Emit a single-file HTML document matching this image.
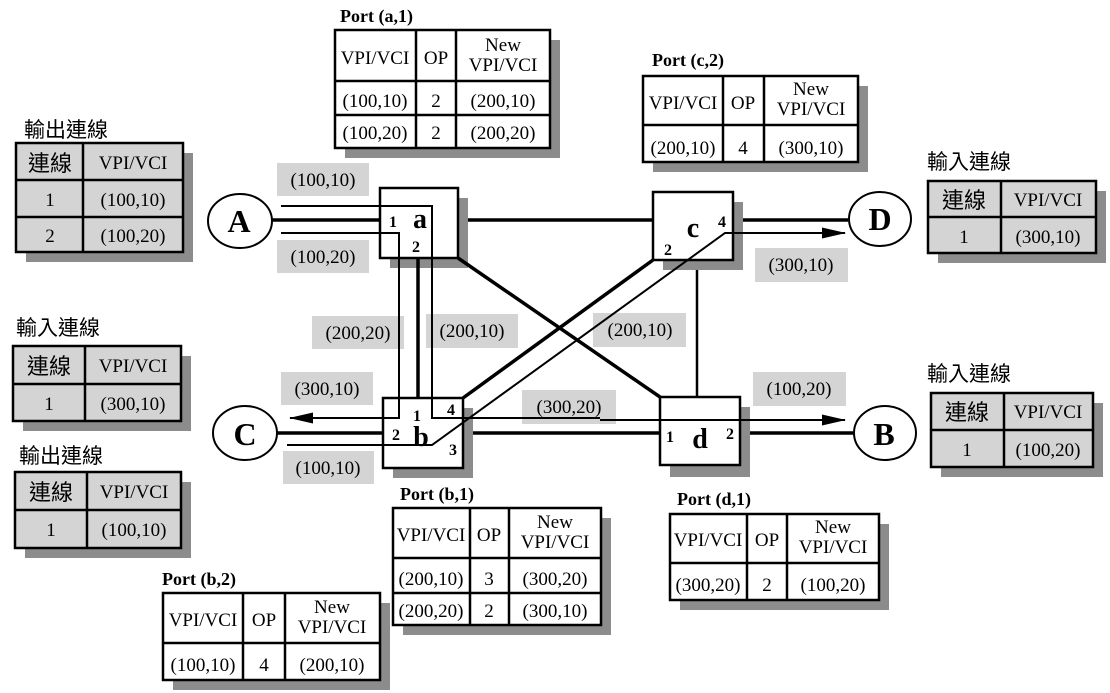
<!DOCTYPE html>
<html><head><meta charset="utf-8"><style>
html,body{margin:0;padding:0;background:#fff;}
svg{display:block;}
text{font-family:"Liberation Serif","Noto Serif CJK SC",serif;}
.t{font-size:19px;text-anchor:middle;}
.cj{font-family:"Liberation Sans","Noto Sans CJK TC",sans-serif;font-size:21px;}
.cjc{font-family:"Liberation Sans","Noto Sans CJK TC",sans-serif;font-size:22px;text-anchor:middle;}
.ttl{font-weight:bold;font-size:18px;}
.lb{font-size:19px;text-anchor:middle;}
.pn{font-weight:bold;font-size:16px;text-anchor:middle;}
.sw{font-weight:bold;font-size:28px;text-anchor:middle;}
.nd{font-weight:bold;font-size:32px;text-anchor:middle;}
</style></head><body>
<svg width="1110" height="693" viewBox="0 0 1110 693" xmlns="http://www.w3.org/2000/svg">
<defs>
<marker id="ar" markerWidth="24" markerHeight="14" refX="23" refY="7" orient="auto" markerUnits="userSpaceOnUse">
<path d="M0,1.5 L24,7 L0,12.5 Z" fill="#000"/></marker>
</defs>

<g stroke="#000" stroke-width="2.5">
<rect x="26" y="153" width="167" height="109" fill="#8c8c8c" stroke="none"/>
<rect x="16" y="143" width="167" height="109" fill="#d4d4d4"/>
<line x1="83" y1="143" x2="83" y2="252"/><line x1="16" y1="180" x2="183" y2="180"/><line x1="16" y1="217" x2="183" y2="217"/>
<rect x="23" y="356" width="168" height="75" fill="#8c8c8c" stroke="none"/>
<rect x="13" y="346" width="168" height="75" fill="#d4d4d4"/>
<line x1="85" y1="346" x2="85" y2="421"/><line x1="13" y1="384" x2="181" y2="384"/>
<rect x="25" y="482" width="166" height="76" fill="#8c8c8c" stroke="none"/>
<rect x="15" y="472" width="166" height="76" fill="#d4d4d4"/>
<line x1="87" y1="472" x2="87" y2="548"/><line x1="15" y1="510" x2="181" y2="510"/>
<rect x="938" y="191" width="168" height="72" fill="#8c8c8c" stroke="none"/>
<rect x="928" y="181" width="168" height="72" fill="#d4d4d4"/>
<line x1="1001" y1="181" x2="1001" y2="253"/><line x1="928" y1="217" x2="1096" y2="217"/>
<rect x="941" y="403" width="162" height="74" fill="#8c8c8c" stroke="none"/>
<rect x="931" y="393" width="162" height="74" fill="#d4d4d4"/>
<line x1="1004" y1="393" x2="1004" y2="467"/><line x1="931" y1="430" x2="1093" y2="430"/>
</g>
<g>
<text x="24" y="137" class="cj">輸出連線</text>
<text x="50" y="171" class="cjc">連線</text><text x="133" y="169" class="t">VPI/VCI</text>
<text x="50" y="206" class="t">1</text><text x="133" y="206" class="t">(100,10)</text>
<text x="50" y="242" class="t">2</text><text x="133" y="242" class="t">(100,20)</text>

<text x="16" y="335" class="cj">輸入連線</text>
<text x="49" y="374" class="cjc">連線</text><text x="133" y="372" class="t">VPI/VCI</text>
<text x="49" y="410" class="t">1</text><text x="133" y="410" class="t">(300,10)</text>

<text x="19" y="463" class="cj">輸出連線</text>
<text x="51" y="500" class="cjc">連線</text><text x="134" y="498" class="t">VPI/VCI</text>
<text x="51" y="536" class="t">1</text><text x="134" y="536" class="t">(100,10)</text>

<text x="927" y="169" class="cj">輸入連線</text>
<text x="964" y="208" class="cjc">連線</text><text x="1048" y="206" class="t">VPI/VCI</text>
<text x="964" y="243" class="t">1</text><text x="1048" y="243" class="t">(300,10)</text>

<text x="927" y="381" class="cj">輸入連線</text>
<text x="967" y="420" class="cjc">連線</text><text x="1048" y="418" class="t">VPI/VCI</text>
<text x="967" y="456" class="t">1</text><text x="1048" y="456" class="t">(100,20)</text>
</g>

<g stroke="#000" stroke-width="2.5">
<rect x="345" y="40" width="215" height="118" fill="#8c8c8c" stroke="none"/>
<rect x="335" y="30" width="215" height="118" fill="#fff"/>
<line x1="416" y1="30" x2="416" y2="148"/><line x1="456" y1="30" x2="456" y2="148"/>
<line x1="335" y1="81" x2="550" y2="81"/><line x1="335" y1="115" x2="550" y2="115"/>
<rect x="653" y="86" width="215" height="86" fill="#8c8c8c" stroke="none"/>
<rect x="643" y="76" width="215" height="86" fill="#fff"/>
<line x1="723" y1="76" x2="723" y2="162"/><line x1="764" y1="76" x2="764" y2="162"/>
<line x1="643" y1="125" x2="858" y2="125"/>
<rect x="403" y="518" width="208" height="117" fill="#8c8c8c" stroke="none"/>
<rect x="393" y="508" width="208" height="117" fill="#fff"/>
<line x1="470" y1="508" x2="470" y2="625"/><line x1="509" y1="508" x2="509" y2="625"/>
<line x1="393" y1="558" x2="601" y2="558"/><line x1="393" y1="593" x2="601" y2="593"/>
<rect x="680" y="524" width="209" height="86" fill="#8c8c8c" stroke="none"/>
<rect x="670" y="514" width="209" height="86" fill="#fff"/>
<line x1="747" y1="514" x2="747" y2="600"/><line x1="787" y1="514" x2="787" y2="600"/>
<line x1="670" y1="563" x2="879" y2="563"/>
<rect x="173" y="603" width="217" height="87" fill="#8c8c8c" stroke="none"/>
<rect x="163" y="593" width="217" height="87" fill="#fff"/>
<line x1="243" y1="593" x2="243" y2="680"/><line x1="285" y1="593" x2="285" y2="680"/>
<line x1="163" y1="643" x2="380" y2="643"/>
</g>
<g>
<text x="340" y="22" class="ttl">Port (a,1)</text>
<text x="375" y="64" class="t">VPI/VCI</text><text x="436" y="64" class="t">OP</text>
<text x="503" y="51" class="t">New</text><text x="503" y="71" class="t">VPI/VCI</text>
<text x="375" y="107" class="t">(100,10)</text><text x="436" y="107" class="t">2</text><text x="503" y="107" class="t">(200,10)</text>
<text x="375" y="139" class="t">(100,20)</text><text x="436" y="139" class="t">2</text><text x="503" y="139" class="t">(200,20)</text>

<text x="652" y="66" class="ttl">Port (c,2)</text>
<text x="683" y="109" class="t">VPI/VCI</text><text x="743" y="109" class="t">OP</text>
<text x="811" y="95" class="t">New</text><text x="811" y="115" class="t">VPI/VCI</text>
<text x="683" y="154" class="t">(200,10)</text><text x="743" y="154" class="t">4</text><text x="811" y="154" class="t">(300,10)</text>

<text x="400" y="500" class="ttl">Port (b,1)</text>
<text x="431" y="541" class="t">VPI/VCI</text><text x="489" y="541" class="t">OP</text>
<text x="555" y="528" class="t">New</text><text x="555" y="548" class="t">VPI/VCI</text>
<text x="431" y="585" class="t">(200,10)</text><text x="489" y="585" class="t">3</text><text x="555" y="585" class="t">(300,20)</text>
<text x="431" y="617" class="t">(200,20)</text><text x="489" y="617" class="t">2</text><text x="555" y="617" class="t">(300,10)</text>

<text x="677" y="505" class="ttl">Port (d,1)</text>
<text x="708" y="546" class="t">VPI/VCI</text><text x="767" y="546" class="t">OP</text>
<text x="833" y="533" class="t">New</text><text x="833" y="553" class="t">VPI/VCI</text>
<text x="708" y="591" class="t">(300,20)</text><text x="767" y="591" class="t">2</text><text x="833" y="591" class="t">(100,20)</text>

<text x="162" y="585" class="ttl">Port (b,2)</text>
<text x="203" y="626" class="t">VPI/VCI</text><text x="264" y="626" class="t">OP</text>
<text x="332" y="613" class="t">New</text><text x="332" y="633" class="t">VPI/VCI</text>
<text x="203" y="671" class="t">(100,10)</text><text x="264" y="671" class="t">4</text><text x="332" y="671" class="t">(200,10)</text>
</g>

<g fill="#d4d4d4">
<rect x="277" y="163" width="92" height="33"/>
<rect x="277" y="240" width="92" height="33"/>
<rect x="312" y="316" width="92" height="33"/>
<rect x="426" y="314" width="92" height="34"/>
<rect x="281" y="372" width="92" height="33"/>
<rect x="283" y="451" width="91" height="33"/>
<rect x="522" y="390" width="94" height="34"/>
<rect x="593" y="313" width="93" height="34"/>
<rect x="755" y="248" width="93" height="34"/>
<rect x="753" y="372" width="93" height="34"/>
</g>

<g fill="#8c8c8c">
<rect x="390" y="198" width="78" height="70"/>
<rect x="663" y="202" width="80" height="68"/>
<rect x="393" y="408" width="80" height="70"/>
<rect x="670" y="407" width="80" height="70"/>
</g>

<g stroke="#000" stroke-width="3.5" fill="none">
<line x1="272" y1="220" x2="380" y2="220"/>
<line x1="468" y1="220" x2="653" y2="220"/>
<line x1="743" y1="220" x2="848" y2="220"/>
<line x1="458" y1="258" x2="660" y2="397"/>
<line x1="463" y1="398" x2="653" y2="260"/>
<line x1="418" y1="258" x2="418" y2="398"/>
<line x1="277" y1="433" x2="383" y2="433"/>
<line x1="473" y1="433" x2="660" y2="433"/>
<line x1="750" y1="433" x2="853" y2="433"/>
</g>
<g stroke="#000" stroke-width="2.5" fill="none">
<line x1="697" y1="270" x2="697" y2="397"/>
</g>

<g fill="#fff" stroke="#000" stroke-width="2.5">
<rect x="380" y="188" width="78" height="70"/>
<rect x="653" y="192" width="80" height="68"/>
<rect x="383" y="398" width="80" height="70"/>
<rect x="660" y="397" width="80" height="68"/>
</g>

<g stroke="#000" stroke-width="2" fill="none">
<polyline points="281,206 432,206 432,418 600,418"/>
<line x1="600" y1="420" x2="845" y2="420" marker-end="url(#ar)"/>
<polyline points="281,233 399,233 399,418 290,418" marker-end="url(#ar)"/>
<polyline points="287,445 432,445 725,233 845,233" marker-end="url(#ar)"/>
</g>

<g fill="#fff" stroke="#000" stroke-width="2">
<ellipse cx="240" cy="221" rx="32" ry="27"/>
<ellipse cx="880" cy="219" rx="31" ry="27"/>
<ellipse cx="245" cy="433" rx="32" ry="27"/>
<ellipse cx="885" cy="433" rx="31" ry="27"/>
</g>
<text x="239" y="232" class="nd">A</text>
<text x="880" y="230" class="nd">D</text>
<text x="245" y="445" class="nd">C</text>
<text x="884" y="445" class="nd">B</text>

<text x="420" y="228" class="sw">a</text>
<text x="393" y="227" class="pn">1</text>
<text x="416" y="252" class="pn">2</text>
<text x="693" y="237" class="sw">c</text>
<text x="722" y="227" class="pn">4</text>
<text x="668" y="255" class="pn">2</text>
<text x="421" y="446" class="sw">b</text>
<text x="417" y="421" class="pn">1</text>
<text x="451" y="415" class="pn">4</text>
<text x="396" y="440" class="pn">2</text>
<text x="453" y="455" class="pn">3</text>
<text x="700" y="448" class="sw">d</text>
<text x="670" y="442" class="pn">1</text>
<text x="730" y="439" class="pn">2</text>

<g>
<text x="323" y="186" class="lb">(100,10)</text>
<text x="323" y="263" class="lb">(100,20)</text>
<text x="358" y="339" class="lb">(200,20)</text>
<text x="472" y="337" class="lb">(200,10)</text>
<text x="327" y="395" class="lb">(300,10)</text>
<text x="328" y="474" class="lb">(100,10)</text>
<text x="569" y="413" class="lb">(300,20)</text>
<text x="640" y="336" class="lb">(200,10)</text>
<text x="801" y="271" class="lb">(300,10)</text>
<text x="799" y="395" class="lb">(100,20)</text>
</g>
</svg>
</body></html>
